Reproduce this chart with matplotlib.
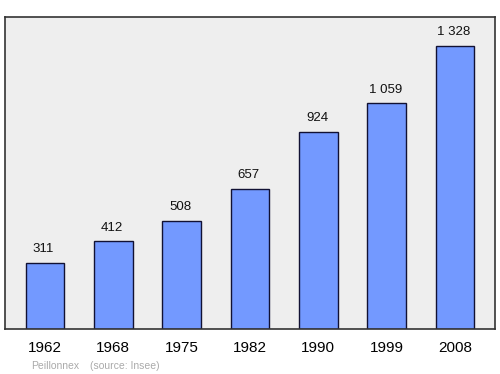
import matplotlib
matplotlib.use("Agg")
import matplotlib.pyplot as plt

years = ["1962", "1968", "1975", "1982", "1990", "1999", "2008"]
population = [311, 412, 508, 657, 924, 1059, 1328]
value_labels = ["311", "412", "508", "657", "924", "1 059", "1 328"]
commune = "Peillonnex"
source = "(source: Insee)"

plt.rcParams['font.family'] = ['Liberation Sans', 'DejaVu Sans']

fig = plt.figure(figsize=(5.0, 3.74), dpi=100)
ax = fig.add_axes([5/500, 1 - 329/374, 490/500, 312/374])
ax.set_facecolor('#eeeeee')
x = list(range(len(years)))
ax.bar(x, population, width=0.57, color='#7399ff', edgecolor='#111133', linewidth=1.0, zorder=2)
for xi, v, lab in zip(x, population, value_labels):
    ax.annotate(lab, (xi, v), xytext=(-1, 5.5), textcoords='offset points',
                ha='center', va='bottom', fontsize=9.5, color='#111111')
ax.set_xlim(-0.585, 6.585)
ax.set_ylim(0, 1464)
ax.set_yticks([])
ax.set_xticks(x)
ax.set_xticklabels(years, fontsize=11)
ax.tick_params(axis='x', length=0, pad=8.5)
for s in ax.spines.values():
    s.set_color('#333333')
    s.set_linewidth(1.2)

fig.text(55/500, 1 - 366/374, commune, ha='center', va='center', fontsize=7.5, color='#aaaaaa')
fig.text(125/500, 1 - 366/374, source, ha='center', va='center', fontsize=7.5, color='#aaaaaa')

fig.savefig('out.png', dpi=100)
